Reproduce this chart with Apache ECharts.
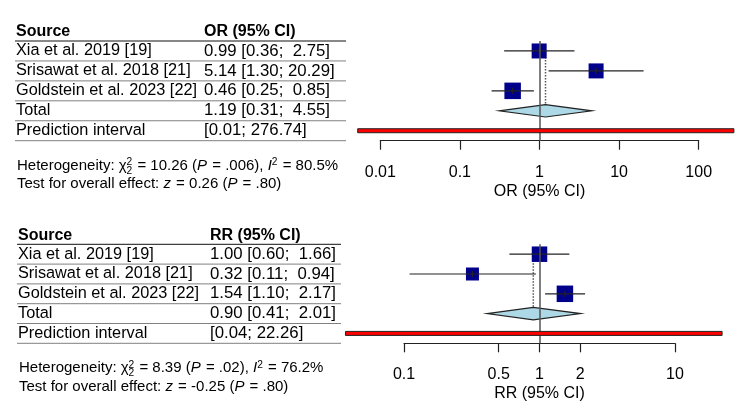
<!DOCTYPE html>
<html>
<head>
<meta charset="utf-8">
<script src="https://cdn.jsdelivr.net/npm/echarts@6/dist/echarts.min.js"></script>
<style>
html, body { margin: 0; padding: 0; background: #fff; }
#Builder { width: 750px; height: 408px; }
</style>
</head>
<body>
<div id="Builder"></div>
<script>
// rows of both tables
var studies = ['Xia et al. 2019 [19]', 'Srisawat et al. 2018 [21]', 'Goldstein et al. 2023 [22]']
var rowNames = studies.concat(['Total', 'Prediction interval'])

// top panel: odds ratios
var orEst = [0.99, 5.14, 0.46]
var orLow = [0.36, 1.30, 0.25]
var orHigh = [2.75, 20.29, 0.85]
var orTotal = [0.31, 1.19, 4.55] // lower, estimate, upper
var orPred = [0.0052, 276.74]
var orText = ['0.99 [0.36;  2.75]', '5.14 [1.30; 20.29]', '0.46 [0.25;  0.85]', '1.19 [0.31;  4.55]', '[0.01; 276.74]']
var orTicks = [0.01, 0.1, 1, 10, 100]
var orHet = ['10.26', '.006', '80.5%']
var orEffect = ['0.26', '.80']

// bottom panel: risk ratios
var rrEst = [1.00, 0.32, 1.54]
var rrLow = [0.60, 0.11, 1.10]
var rrHigh = [1.66, 0.94, 2.17]
var rrTotal = [0.41, 0.90, 2.01]
var rrPred = [0.037, 22.26]
var rrText = ['1.00 [0.60;  1.66]', '0.32 [0.11;  0.94]', '1.54 [1.10;  2.17]', '0.90 [0.41;  2.01]', '[0.04; 22.26]']
var rrTicks = [0.1, 0.5, 1, 2, 10]
var rrHet = ['8.39', '.02', '76.2%']
var rrEffect = ['-0.25', '.80']

// square sizes (study weights)
var orSize = [15, 15, 16.5]
var rrSize = [15.5, 13, 16.5]

var FONT = '"Liberation Sans", Arial, sans-serif'
var measure = document.createElement('canvas').getContext('2d')

// small plotmath-like text: runs with italic / sup / sub
function mathLine(x, y, runs, size) {
    var out = []
    var cx = x
    runs.forEach(function(r) {
        var fs = (r.sup || r.sub) ? size * 0.68 : size
        var font = (r.it ? 'italic ' : '') + fs + 'px ' + FONT
        measure.font = font
        var w = measure.measureText(r.t).width
        out.push({
            type: 'text', x: cx, y: y + (r.sup ? -3.5 : r.sub ? 5 : 0),
            style: { text: r.t, font: font, fill: '#000', textAlign: 'left', textVerticalAlign: 'middle' }
        })
        if (!r.stack) cx += w + (r.pad || 0)
    })
    return out
}

function table(g, label, texts, x0, x1, colX, het, eff) {
    var items = []
    var rowH = g.height / rowNames.length
    var lineY = []
    for (var i = 0; i <= rowNames.length; i++) lineY.push(g.top + i * rowH)
    lineY.forEach(function(y, i) {
        items.push({
            type: 'line', shape: { x1: x0, y1: y, x2: x1, y2: y },
            style: { stroke: i === 0 ? '#111' : '#808080', lineWidth: 1 }
        })
    })
    var hy = g.top - 9
    items.push({ type: 'text', x: x0 + 1, y: hy, style: { text: 'Source', font: 'bold 16px ' + FONT, fill: '#000', textVerticalAlign: 'middle' } })
    items.push({ type: 'text', x: colX, y: hy, style: { text: label, font: 'bold 16px ' + FONT, fill: '#000', textVerticalAlign: 'middle' } })
    rowNames.forEach(function(name, i) {
        var cy = g.top + (i + 0.5) * rowH
        items.push({ type: 'text', x: x0 + 1, y: cy, style: { text: name, font: '16.3px ' + FONT, fill: '#000', textVerticalAlign: 'middle' } })
        items.push({ type: 'text', x: colX, y: cy, style: { text: texts[i], font: '16.8px ' + FONT, fill: '#000', textVerticalAlign: 'middle' } })
    })
    var ty = g.top + g.height + 25
    items = items.concat(mathLine(x0 + 2, ty, [
        { t: 'Heterogeneity: ' }, { t: 'χ' }, { t: '2', sup: true, stack: true }, { t: '2', sub: true, pad: 1 },
        { t: ' = ' + het[0] + ' (' }, { t: 'P', it: true, pad: 1 }, { t: ' = ' + het[1] + '), ' },
        { t: 'I', it: true }, { t: '2', sup: true, pad: 1 }, { t: ' = ' + het[2] }
    ], 15))
    items = items.concat(mathLine(x0 + 2, ty + 18.5, [
        { t: 'Test for overall effect: ' }, { t: 'z', it: true, pad: 1 }, { t: ' = ' + eff[0] + ' (' },
        { t: 'P', it: true, pad: 1 }, { t: ' = ' + eff[1] + ')' }
    ], 15))
    return items
}

function panelSeries(idx, est, low, high, total, pred, sizes) {
    var base = { xAxisIndex: idx, yAxisIndex: idx, silent: true, animation: false }
    var ci = est.map(function(v, i) { return [low[i], high[i], v, i] })
    return [
        Object.assign({}, base, {
            type: 'line', z: 1, symbol: 'none',
            data: [[total[1], 0], [total[1], 3]],
            lineStyle: { type: 'dotted', color: '#555', width: 1.5 },
            markLine: {
                silent: true, symbol: 'none', label: { show: false }, animation: false,
                lineStyle: { type: 'solid', color: '#555', width: 1.5 },
                data: [{ xAxis: 1 }]
            }
        }),
        Object.assign({}, base, {
            type: 'scatter', z: 2, symbol: 'rect',
            itemStyle: { color: '#00008B', opacity: 1 },
            data: est.map(function(v, i) { return { value: [v, i], symbolSize: sizes[i] } })
        }),
        Object.assign({}, base, {
            type: 'custom', z: 3, clip: false,
            encode: { x: [0, 1, 2], y: 3 },
            data: ci,
            renderItem: function(params, api) {
                var row = api.value(3)
                var a = api.coord([api.value(0), row])
                var b = api.coord([api.value(1), row])
                var m = api.coord([api.value(2), row])
                var st = { stroke: '#222', lineWidth: 1.2 }
                return { type: 'group', children: [
                    { type: 'line', shape: { x1: a[0], y1: a[1], x2: b[0], y2: b[1] }, style: st },
                    { type: 'line', shape: { x1: m[0], y1: m[1] - 3, x2: m[0], y2: m[1] + 3 }, style: st }
                ] }
            }
        }),
        Object.assign({}, base, {
            type: 'custom', z: 4, clip: false,
            encode: { x: [0, 1, 2], y: 3 },
            data: [[total[0], total[1], total[2], 3]],
            renderItem: function(params, api) {
                var row = api.value(3)
                var l = api.coord([api.value(0), row])
                var m = api.coord([api.value(1), row])
                var h = api.coord([api.value(2), row])
                return {
                    type: 'polygon',
                    shape: { points: [[l[0], l[1]], [m[0], m[1] - 6.2], [h[0], h[1]], [m[0], m[1] + 6.2]] },
                    style: { fill: '#ADD8E6', stroke: '#222', lineWidth: 1.2 }
                }
            }
        }),
        Object.assign({}, base, {
            type: 'custom', z: 5, clip: false,
            encode: { x: [0, 1], y: 2 },
            data: [[pred[0], pred[1], 4]],
            renderItem: function(params, api) {
                var a = api.coord([api.value(0), api.value(2)])
                var b = api.coord([api.value(1), api.value(2)])
                return {
                    type: 'rect',
                    shape: { x: a[0], y: a[1] - 2, width: b[0] - a[0], height: 4 },
                    style: { fill: '#FF0000', stroke: '#222', lineWidth: 1 }
                }
            }
        })
    ]
}

function xAxis(idx, ticks, name) {
    var ls = { color: '#222', width: 1.2 }
    return {
        gridIndex: idx, type: 'log', logBase: 10,
        min: ticks[0], max: ticks[ticks.length - 1], position: 'bottom',
        axisLine: { show: true, lineStyle: ls },
        axisTick: { show: true, length: 9, customValues: ticks, lineStyle: ls },
        axisLabel: {
            customValues: ticks, margin: 23.5, fontSize: 16, color: '#000', fontFamily: FONT,
            formatter: function(v) { return String(+(+v).toPrecision(3)) }
        },
        splitLine: { show: false },
        name: name, nameLocation: 'middle', nameGap: 42.5,
        nameTextStyle: { fontSize: 16, color: '#000', fontFamily: FONT }
    }
}

var g0 = { left: 380.3, top: 41, width: 318.4, height: 99.7, outerBoundsMode: 'none' }
var g1 = { left: 404, top: 244.3, width: 271, height: 99, outerBoundsMode: 'none' }

var option = {
    backgroundColor: '#fff',
    animation: false,
    grid: [g0, g1],
    xAxis: [xAxis(0, orTicks, 'OR (95% CI)'), xAxis(1, rrTicks, 'RR (95% CI)')],
    yAxis: [
        { gridIndex: 0, type: 'category', data: rowNames, inverse: true, show: false },
        { gridIndex: 1, type: 'category', data: rowNames, inverse: true, show: false }
    ],
    series: panelSeries(0, orEst, orLow, orHigh, orTotal, orPred, orSize)
        .concat(panelSeries(1, rrEst, rrLow, rrHigh, rrTotal, rrPred, rrSize)),
    graphic: table(g0, 'OR (95% CI)', orText, 15, 346, 204, orHet, orEffect)
        .concat(table(g1, 'RR (95% CI)', rrText, 17, 341, 210, rrHet, rrEffect))
}

var builder = echarts.init(document.getElementById('Builder'))
builder.setOption(option)
window.addEventListener('resize', function() {
    builder.resize()
})
</script>
</body>
</html>
